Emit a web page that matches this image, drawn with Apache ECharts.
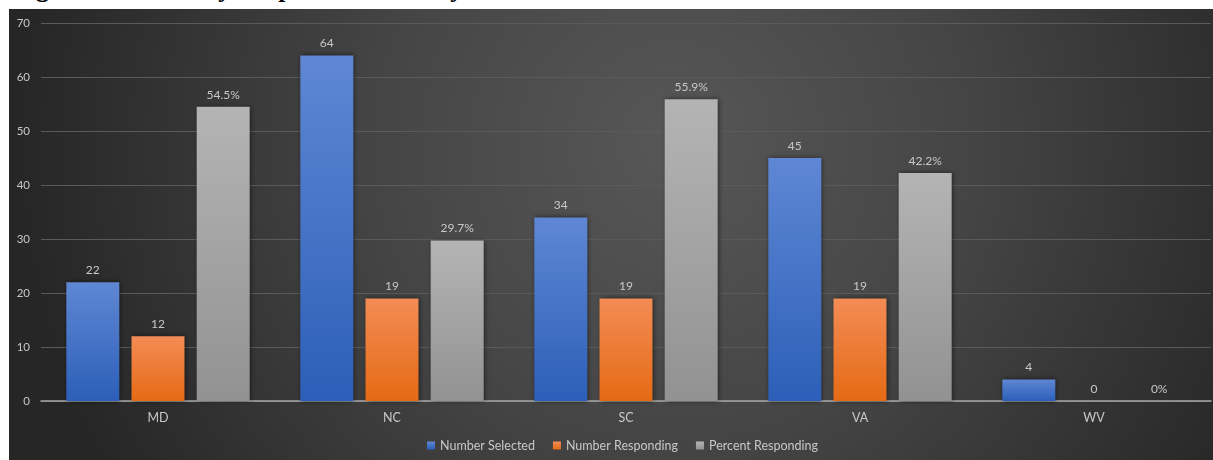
<!DOCTYPE html>
<html>
<head>
<meta charset="utf-8">
<script src="https://cdn.jsdelivr.net/npm/echarts@6/dist/echarts.min.js"></script>
<style>
  html, body { margin: 0; padding: 0; background: #ffffff; }
  body { width: 1213px; height: 460px; position: relative; overflow: hidden; }
  #caption {
    position: absolute; left: 0; top: 0; width: 1213px; height: 9px; overflow: hidden;
  }
  #caption span {
    position: absolute; left: 13px; top: -26px; white-space: nowrap;
    font-family: "Liberation Serif", "DejaVu Serif", serif; font-weight: bold; font-size: 26px;
    line-height: 30px; color: #000;
  }
  #chart { position: absolute; left: 9px; top: 9px; width: 1204px; height: 451px; }
</style>
</head>
<body>
<div id="caption"><span>Figure 10.2: Survey Response Results by State</span></div>
<div id="chart"></div>
<script>
const states = ['MD', 'NC', 'SC', 'VA', 'WV'];
const numberSelected = [22, 64, 34, 45, 4];
const numberResponding = [12, 19, 19, 19, 0];
const percentResponding = [54.5, 29.7, 55.9, 42.2, 0];
const seriesNames = ['Number Selected', 'Number Responding', 'Percent Responding'];

const textColor = '#c8c8c8';
const fontFamily = 'Lato, "Noto Sans", sans-serif';

function vgrad(top, bottom) {
  return new echarts.graphic.LinearGradient(0, 0, 0, 1, [
    { offset: 0, color: top },
    { offset: 1, color: bottom }
  ]);
}

function barSeries(name, data, top, bottom, fmt) {
  return {
    name: name,
    type: 'bar',
    data: data,
    barWidth: 53,
    barGap: '23%',
    itemStyle: {
      color: vgrad(top, bottom),
      shadowBlur: 5,
      shadowColor: 'rgba(0,0,0,0.55)',
      shadowOffsetX: 1,
      shadowOffsetY: 0
    },
    label: {
      show: true,
      position: 'top',
      distance: 6,
      color: textColor,
      fontFamily: fontFamily,
      fontSize: 12,
      formatter: fmt
    },
    emphasis: { disabled: true }
  };
}

const chart = echarts.init(document.getElementById('chart'), null, { renderer: 'canvas' });
chart.setOption({
  animation: false,
  // soft spotlight behind the plot, darkening toward the edges
  backgroundColor: new echarts.graphic.RadialGradient(0.55, 0.3, 1.45, [
    { offset: 0, color: '#575757' },
    { offset: 0.45, color: '#454545' },
    { offset: 1, color: '#262626' }
  ]),
  grid: { left: 32, right: 2, top: 14, bottom: 59 },
  legend: {
    data: seriesNames,
    bottom: 3,
    left: 413,
    icon: 'rect',
    itemWidth: 8,
    itemHeight: 8,
    itemGap: 18,
    textStyle: { color: textColor, fontFamily: fontFamily, fontSize: 12.5 }
  },
  xAxis: {
    type: 'category',
    data: states,
    axisLine: { show: true, lineStyle: { color: '#a8a8a8', width: 1.5 } },
    axisTick: { show: false },
    axisLabel: { color: textColor, fontFamily: fontFamily, fontSize: 12.5, margin: 10 }
  },
  yAxis: {
    type: 'value',
    min: 0,
    max: 70,
    interval: 10,
    axisLine: { show: false },
    axisTick: { show: false },
    axisLabel: { color: textColor, fontFamily: fontFamily, fontSize: 11.5, margin: 11 },
    splitLine: { lineStyle: { color: '#5a5a5a', width: 1 } }
  },
  series: [
    barSeries(seriesNames[0], numberSelected, '#5f87d4', '#2c5fb8', p => String(p.value)),
    barSeries(seriesNames[1], numberResponding, '#f38c55', '#e56a15', p => String(p.value)),
    barSeries(seriesNames[2], percentResponding, '#b4b4b4', '#929292', p => p.value + '%')
  ]
});
</script>
</body>
</html>
